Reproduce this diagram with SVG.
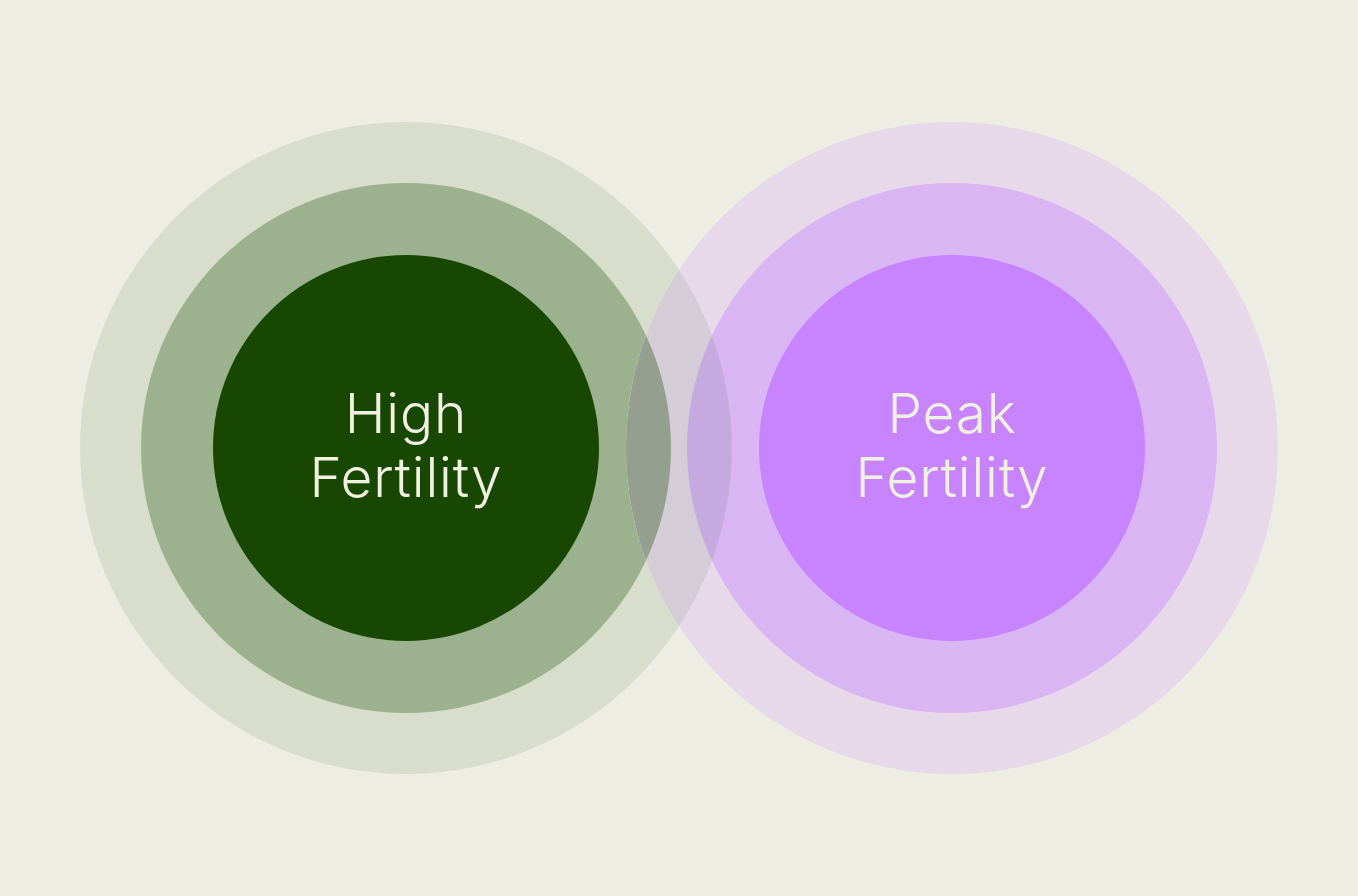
<svg xmlns="http://www.w3.org/2000/svg" width="1358" height="896" viewBox="0 0 1358 896">
<defs>
<style>
.lbl{font-family:Inter,"Liberation Sans",sans-serif;font-weight:300;font-size:55px;letter-spacing:0.8px;fill:#F1F1E2;text-anchor:middle}
</style>
<clipPath id="cLO"><circle cx="406" cy="448" r="326"/></clipPath>
<clipPath id="cLM"><circle cx="406" cy="448" r="265"/></clipPath>
</defs>
<rect width="1358" height="896" fill="#EEEDE4"/>
<g id="high-fertility">
<circle cx="406" cy="448" r="326" fill="#D8DECB"/>
<circle cx="406" cy="448" r="265" fill="#9CB28F"/>
<circle cx="406" cy="448" r="193" fill="#174700"/>
<text class="lbl" x="406" y="433">High</text>
<text class="lbl" x="406" y="497">Fertility</text>
</g>
<g id="peak-fertility">
<circle cx="952" cy="448" r="326" fill="#E7D9EA"/>
<circle cx="952" cy="448" r="265" fill="#DAB5F3"/>
<circle cx="952" cy="448" r="193" fill="#C883FF"/>
<text class="lbl" x="952" y="433">Peak</text>
<text class="lbl" x="952" y="497">Fertility</text>
</g>
<g id="overlap">
<circle cx="952" cy="448" r="326" fill="#D4CDD7" clip-path="url(#cLO)"/>
<circle cx="952" cy="448" r="326" fill="#949F90" clip-path="url(#cLM)"/>
<circle cx="952" cy="448" r="265" fill="#C6AADF" clip-path="url(#cLO)"/>
</g>
</svg>
